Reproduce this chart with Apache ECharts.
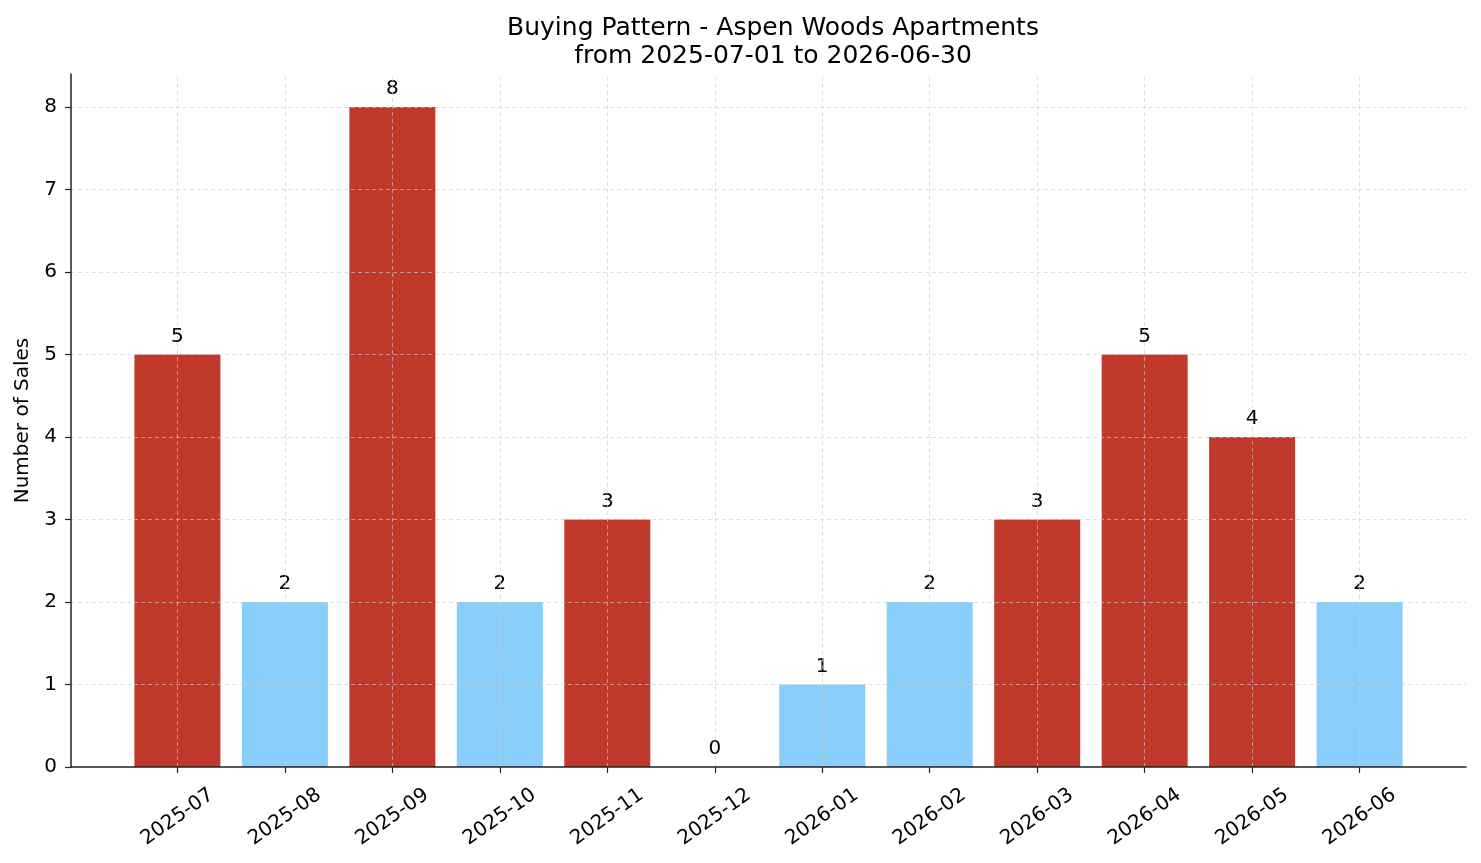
<!DOCTYPE html>
<html>
<head>
<meta charset="utf-8">
<script src="https://cdn.jsdelivr.net/npm/echarts@6/dist/echarts.min.js"></script>
<style>
  html, body { margin: 0; padding: 0; background: #fff; }
  #chart { width: 1481px; height: 863px; }
</style>
</head>
<body>
<div id="chart"></div>
<script>
var MONTHS = ['2025-07','2025-08','2025-09','2025-10','2025-11','2025-12',
	'2026-01','2026-02','2026-03','2026-04','2026-05','2026-06'];
var SALES = [5, 2, 8, 2, 3, 0, 1, 2, 3, 5, 4, 2];
var Y_TICKS = [0, 1, 2, 3, 4, 5, 6, 7, 8];
var HIGH = 3;   // bars at or above this are red

var RED = '#c0392b', BLUE = '#87cefa';
var FONT = 'DejaVu Sans';

function barColor(v) {
	return v >= HIGH ? RED : BLUE;
}

var positions = MONTHS.map(function(m, i) { return i; });
var barData = SALES.map(function(v, i) {
	return { value: [i, v], itemStyle: { color: barColor(v) } };
});

// dashed grid, drawn over the bars like the original
var gridStyle = { color: '#cccccc', type: [4, 3], width: 0.8, opacity: 0.8 };
var gridLines = positions.map(function(i) { return { xAxis: i }; })
	.concat(Y_TICKS.slice(1).map(function(v) { return { yAxis: v }; }));

var myChart = echarts.init(document.getElementById('chart'));

var option = {
	animation: false,
	title: {
		text: 'Buying Pattern - Aspen Woods Apartments\nfrom 2025-07-01 to 2026-06-30',
		left: 768, top: 9, textAlign: 'center',
		textStyle: { fontFamily: FONT, fontSize: 25, fontWeight: 'normal', color: '#000', lineHeight: 28 }
	},
	grid: { left: 71, right: 15, top: 74, bottom: 96 },
	xAxis: {
		type: 'value', min: -0.99, max: 11.99,
		z: 5,
		axisLine: { onZero: false, lineStyle: { color: '#222', width: 1.5 } },
		axisTick: { customValues: positions, length: 6, lineStyle: { color: '#222', width: 1.2 } },
		axisLabel: {
			customValues: positions,
			rotate: 35, align: 'center', verticalAlign: 'middle', margin: 50,
			fontFamily: FONT, fontSize: 20, color: '#000',
			formatter: function(v) { return MONTHS[Math.round(v)] || ''; }
		},
		splitLine: { show: false }
	},
	yAxis: {
		type: 'value', min: 0, max: 8.4,
		z: 5,
		name: 'Number of Sales', nameLocation: 'middle', nameGap: 38,
		nameTextStyle: { fontFamily: FONT, fontSize: 20, color: '#000' },
		axisLine: { show: true, onZero: false, lineStyle: { color: '#222', width: 1.5 } },
		axisTick: { show: true, customValues: Y_TICKS, length: 6, lineStyle: { color: '#222', width: 1.2 } },
		axisLabel: {
			customValues: Y_TICKS,
			fontFamily: FONT, fontSize: 20, color: '#000', margin: 14
		},
		splitLine: { show: false }
	},
	series: [{
		type: 'bar',
		data: barData,
		barWidth: 86,
		label: {
			show: true, position: 'top', distance: 8,
			fontFamily: FONT, fontSize: 20, color: '#000',
			formatter: function(p) { return p.value[1]; }
		},
		markLine: {
			silent: true, symbol: 'none', label: { show: false },
			lineStyle: gridStyle,
			data: gridLines
		}
	}]
};

myChart.setOption(option);
</script>
</body>
</html>
